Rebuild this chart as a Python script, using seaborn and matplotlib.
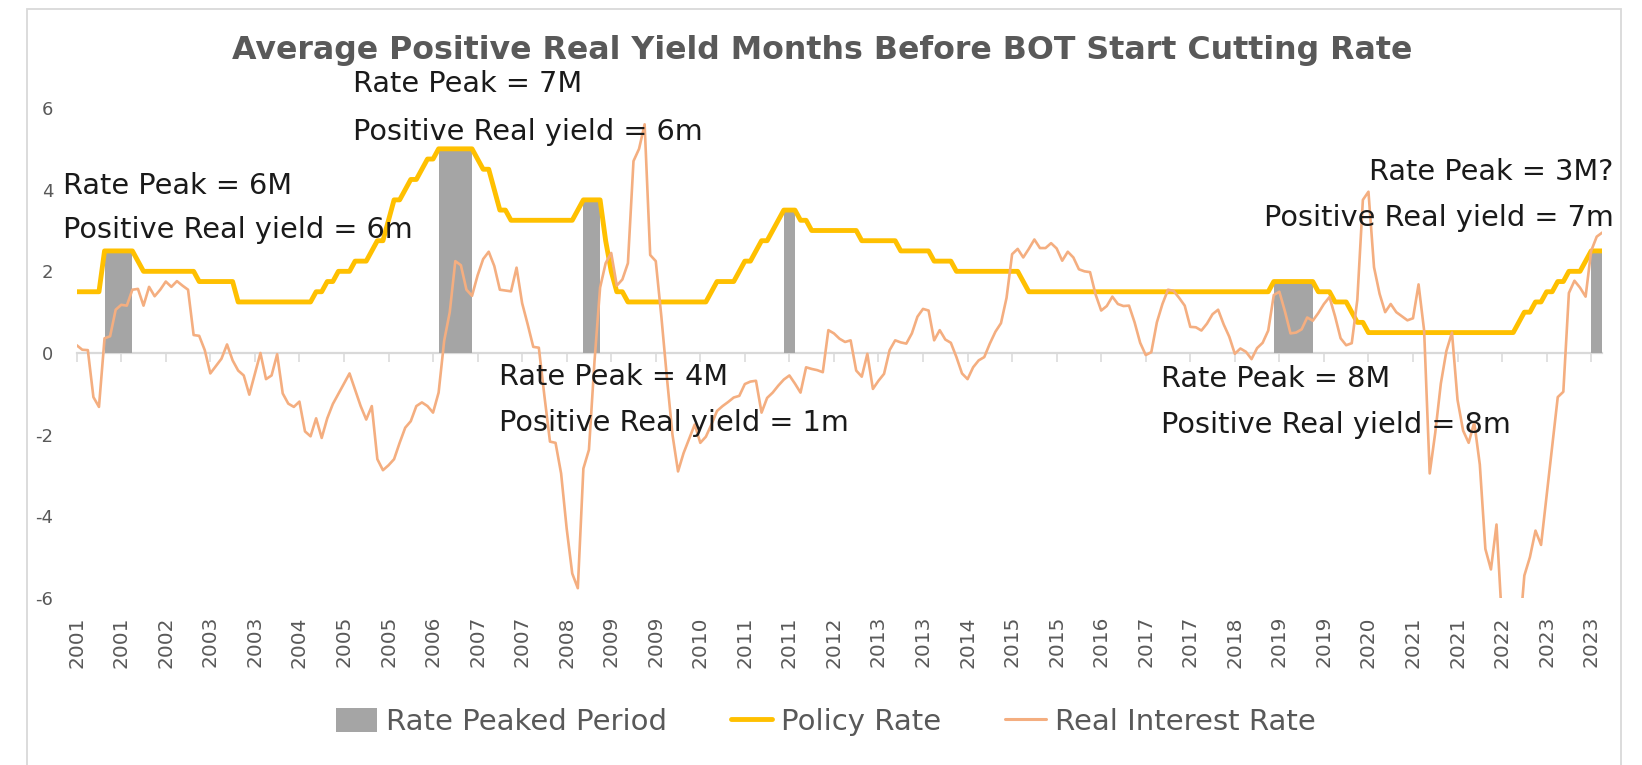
import numpy as np
import pandas as pd
import matplotlib
matplotlib.use("Agg")
import matplotlib.pyplot as plt
from matplotlib.patches import Patch, Rectangle
from matplotlib.lines import Line2D
import seaborn as sns

# ---------------- data (monthly, Jan 2001 - Nov 2023) ----------------
months = pd.date_range("2001-01-01", periods=275, freq="MS")

policy_rate = [
    1.5, 1.5, 1.5, 1.5, 1.5, 2.5, 2.5, 2.5, 2.5, 2.5, 2.5, 2.25,          # 2001
    2.0, 2.0, 2.0, 2.0, 2.0, 2.0, 2.0, 2.0, 2.0, 2.0, 1.75, 1.75,         # 2002
    1.75, 1.75, 1.75, 1.75, 1.75, 1.25, 1.25, 1.25, 1.25, 1.25, 1.25, 1.25,  # 2003
    1.25, 1.25, 1.25, 1.25, 1.25, 1.25, 1.25, 1.5, 1.5, 1.75, 1.75, 2.0,  # 2004
    2.0, 2.0, 2.25, 2.25, 2.25, 2.5, 2.75, 2.75, 3.25, 3.75, 3.75, 4.0,   # 2005
    4.25, 4.25, 4.5, 4.75, 4.75, 5.0, 5.0, 5.0, 5.0, 5.0, 5.0, 5.0,       # 2006
    4.75, 4.5, 4.5, 4.0, 3.5, 3.5, 3.25, 3.25, 3.25, 3.25, 3.25, 3.25,    # 2007
    3.25, 3.25, 3.25, 3.25, 3.25, 3.25, 3.5, 3.75, 3.75, 3.75, 3.75, 2.75,  # 2008
    2.0, 1.5, 1.5, 1.25, 1.25, 1.25, 1.25, 1.25, 1.25, 1.25, 1.25, 1.25,  # 2009
    1.25, 1.25, 1.25, 1.25, 1.25, 1.25, 1.5, 1.75, 1.75, 1.75, 1.75, 2.0,  # 2010
    2.25, 2.25, 2.5, 2.75, 2.75, 3.0, 3.25, 3.5, 3.5, 3.5, 3.25, 3.25,    # 2011
    3.0, 3.0, 3.0, 3.0, 3.0, 3.0, 3.0, 3.0, 3.0, 2.75, 2.75, 2.75,        # 2012
    2.75, 2.75, 2.75, 2.75, 2.5, 2.5, 2.5, 2.5, 2.5, 2.5, 2.25, 2.25,     # 2013
    2.25, 2.25, 2.0, 2.0, 2.0, 2.0, 2.0, 2.0, 2.0, 2.0, 2.0, 2.0,         # 2014
    2.0, 2.0, 1.75, 1.5, 1.5, 1.5, 1.5, 1.5, 1.5, 1.5, 1.5, 1.5,          # 2015
    1.5, 1.5, 1.5, 1.5, 1.5, 1.5, 1.5, 1.5, 1.5, 1.5, 1.5, 1.5,           # 2016
    1.5, 1.5, 1.5, 1.5, 1.5, 1.5, 1.5, 1.5, 1.5, 1.5, 1.5, 1.5,           # 2017
    1.5, 1.5, 1.5, 1.5, 1.5, 1.5, 1.5, 1.5, 1.5, 1.5, 1.5, 1.75,          # 2018
    1.75, 1.75, 1.75, 1.75, 1.75, 1.75, 1.75, 1.5, 1.5, 1.5, 1.25, 1.25,  # 2019
    1.25, 1.0, 0.75, 0.75, 0.5, 0.5, 0.5, 0.5, 0.5, 0.5, 0.5, 0.5,        # 2020
    0.5, 0.5, 0.5, 0.5, 0.5, 0.5, 0.5, 0.5, 0.5, 0.5, 0.5, 0.5,           # 2021
    0.5, 0.5, 0.5, 0.5, 0.5, 0.5, 0.5, 0.75, 1.0, 1.0, 1.25, 1.25,        # 2022
    1.5, 1.5, 1.75, 1.75, 2.0, 2.0, 2.0, 2.25, 2.5, 2.5, 2.5,             # 2023
]

real_rate = [
    0.19, 0.08, 0.07, -1.08, -1.32, 0.36, 0.41, 1.06, 1.18, 1.16, 1.55, 1.57,      # 2001
    1.16, 1.62, 1.39, 1.55, 1.75, 1.62, 1.76, 1.65, 1.55, 0.44, 0.42, 0.07,        # 2002
    -0.5, -0.32, -0.14, 0.21, -0.18, -0.43, -0.55, -1.02, -0.51, 0.0, -0.64, -0.55,  # 2003
    -0.03, -0.99, -1.24, -1.32, -1.19, -1.92, -2.04, -1.6, -2.08, -1.6, -1.25, -1.0,  # 2004
    -0.75, -0.5, -0.9, -1.3, -1.63, -1.3, -2.6, -2.87, -2.75, -2.6, -2.2, -1.83,   # 2005
    -1.67, -1.3, -1.21, -1.3, -1.46, -0.97, 0.3, 1.0, 2.25, 2.15, 1.55, 1.4,       # 2006
    1.9, 2.3, 2.48, 2.13, 1.55, 1.53, 1.51, 2.09, 1.22, 0.7, 0.15, 0.13,           # 2007
    -1.05, -2.17, -2.2, -2.95, -4.3, -5.4, -5.76, -2.83, -2.37, -0.2, 1.6, 2.2,    # 2008
    2.45, 1.65, 1.8, 2.2, 4.7, 5.0, 5.6, 2.4, 2.25, 0.9, -0.6, -2.0,               # 2009
    -2.9, -2.45, -2.1, -1.75, -2.2, -2.05, -1.75, -1.42, -1.3, -1.2, -1.09, -1.05,  # 2010
    -0.76, -0.7, -0.68, -1.46, -1.1, -0.97, -0.8, -0.65, -0.55, -0.75, -0.97, -0.35,  # 2011
    -0.39, -0.42, -0.47, 0.56, 0.48, 0.35, 0.27, 0.31, -0.43, -0.58, -0.02, -0.88,  # 2012
    -0.68, -0.51, 0.07, 0.31, 0.26, 0.23, 0.48, 0.89, 1.08, 1.04, 0.31, 0.56,      # 2013
    0.33, 0.25, -0.1, -0.5, -0.64, -0.35, -0.18, -0.1, 0.23, 0.52, 0.73, 1.35,     # 2014
    2.42, 2.55, 2.34, 2.55, 2.78, 2.57, 2.57, 2.69, 2.56, 2.26, 2.48, 2.34,        # 2015
    2.05, 2.0, 1.98, 1.43, 1.04, 1.15, 1.38, 1.2, 1.15, 1.16, 0.75, 0.25,          # 2016
    -0.05, 0.02, 0.75, 1.2, 1.55, 1.52, 1.35, 1.16, 0.64, 0.63, 0.55, 0.72,        # 2017
    0.95, 1.06, 0.7, 0.4, -0.02, 0.11, 0.03, -0.15, 0.12, 0.25, 0.55, 1.42,        # 2018
    1.5, 1.02, 0.48, 0.5, 0.58, 0.87, 0.79, 0.98, 1.2, 1.37, 0.9, 0.36,            # 2019
    0.19, 0.24, 1.3, 3.75, 3.95, 2.1, 1.45, 1.0, 1.2, 1.0, 0.9, 0.8,               # 2020
    0.85, 1.68, 0.55, -2.95, -1.95, -0.75, 0.05, 0.5, -1.15, -1.9, -2.2, -1.7,     # 2021
    -2.73, -4.8, -5.3, -4.2, -6.6, -7.2, -7.1, -7.1, -5.45, -5.0, -4.35, -4.7,     # 2022
    -3.5, -2.3, -1.08, -0.95, 1.47, 1.77, 1.6, 1.38, 2.5, 2.85, 2.95,              # 2023
]

peak_start = ["2001-06", "2006-06", "2008-08", "2011-08", "2018-12", "2023-09"]
peak_end = ["2001-11", "2006-12", "2008-11", "2011-10", "2019-07", "2023-11"]

tick_labels = ["2001", "2001", "2002", "2003", "2003", "2004", "2005", "2005",
               "2006", "2007", "2007", "2008", "2009", "2009", "2010", "2011",
               "2011", "2012", "2013", "2013", "2014", "2015", "2015", "2016",
               "2017", "2017", "2018", "2019", "2019", "2020", "2021", "2021",
               "2022", "2023", "2023"]
y_ticks = [-6, -4, -2, 0, 2, 4, 6]

notes = [
    ("Rate Peak = 6M", "Positive Real yield = 6m"),
    ("Rate Peak = 7M", "Positive Real yield = 6m"),
    ("Rate Peak = 4M", "Positive Real yield = 1m"),
    ("Rate Peak = 8M", "Positive Real yield = 8m"),
    ("Rate Peak = 3M?", "Positive Real yield = 7m"),
]

title = "Average Positive Real Yield Months Before BOT Start Cutting Rate"
legend_labels = ["Rate Peaked Period", "Policy Rate", "Real Interest Rate"]

# ---------------- styling ----------------
sns.set_style("white")
plt.rcParams["font.family"] = ["DejaVu Sans"]
plt.rcParams["axes.unicode_minus"] = False

C_POLICY = "#FFC000"
C_REAL = "#F4AE80"
C_PEAK = "#A5A5A5"
C_AXIS = "#D9D9D9"
C_TXT = "#595959"

df = pd.DataFrame({"idx": np.arange(len(months)), "month": months,
                   "policy": policy_rate, "real": real_rate})
mask = np.zeros(len(df), dtype=bool)
for s, e in zip(peak_start, peak_end):
    mask |= (df["month"] >= pd.Timestamp(s)).values & (df["month"] <= pd.Timestamp(e)).values

W, H = 1642, 765
fig = plt.figure(figsize=(W / 100, H / 100), dpi=100)
ax = fig.add_axes([76.7 / W, 1 - 598 / H, (1602.3 - 76.7) / W, (598 - 108) / H])

ax.fill_between(df["idx"], 0, df["policy"], where=mask, color=C_PEAK, lw=0, zorder=1)
sns.lineplot(data=df, x="idx", y="policy", ax=ax, color=C_POLICY, lw=3.5,
             estimator=None, zorder=3)
sns.lineplot(data=df, x="idx", y="real", ax=ax, color=C_REAL, lw=1.9,
             estimator=None, zorder=4)

ax.set_xlim(0, len(df) - 1)
ax.set_ylim(-6, 6)
ax.set_xlabel("")
ax.set_ylabel("")
for sp in ax.spines.values():
    sp.set_visible(False)

xt = np.arange(0, len(df), 8)
ax.set_xticks(xt)
ax.set_xticklabels(tick_labels, rotation=90, fontsize=14.5, color=C_TXT)
ax.set_yticks(y_ticks)
ax.set_yticklabels([str(v) for v in y_ticks], fontsize=13, color=C_TXT)
ax.tick_params(axis="x", length=0, pad=13)
ax.tick_params(axis="y", length=0, pad=17)
ax.grid(False)

# zero-line axis with tick marks hanging below it
sec = ax.secondary_xaxis(0.5)
try:
    sec.set_alignment("bottom")
except Exception:
    pass
sec.set_xticks(xt)
sec.set_xticklabels([])
sec.tick_params(axis="x", direction="out", length=6.5, width=1.1, color=C_AXIS)
for name, sp in sec.spines.items():
    sp.set_color(C_AXIS)
    sp.set_linewidth(1.6)

# annotations
ann_fs = 20.7
ann_pos = [(-2.4, 4.09, 3.01, "left"), (49.6, 6.59, 5.41, "left"),
           (75.9, -0.59, -1.71, "left"), (194.7, -0.64, -1.76, "left"),
           (276.0, 4.43, 3.31, "right")]
for (t1, t2), (x, y1, y2, ha) in zip(notes, ann_pos):
    ax.text(x, y1, t1, fontsize=ann_fs, color="#1a1a1a", ha=ha, va="center", zorder=6)
    ax.text(x, y2, t2, fontsize=ann_fs, color="#1a1a1a", ha=ha, va="center", zorder=6)

fig.text(0.5006, 1 - 51 / H, title, fontsize=22.8, fontweight="bold", color=C_TXT,
         ha="center", va="center")

handles = [Patch(facecolor=C_PEAK, edgecolor="none"),
           Line2D([0], [0], color=C_POLICY, lw=3.5),
           Line2D([0], [0], color=C_REAL, lw=2.2)]
fig.legend(handles, legend_labels, loc="center", bbox_to_anchor=(0.503, 1 - 722 / H),
           ncol=3, frameon=False, fontsize=21, handlelength=1.4, handleheight=0.85,
           handletextpad=0.3, columnspacing=2.2, labelcolor=C_TXT)

fig.add_artist(Rectangle((27 / W, -0.02), (1621 - 27) / W, 1 - 9 / H + 0.02,
                         transform=fig.transFigure, fill=False,
                         edgecolor=C_AXIS, lw=1.3))

fig.savefig("out.png", dpi=100)
